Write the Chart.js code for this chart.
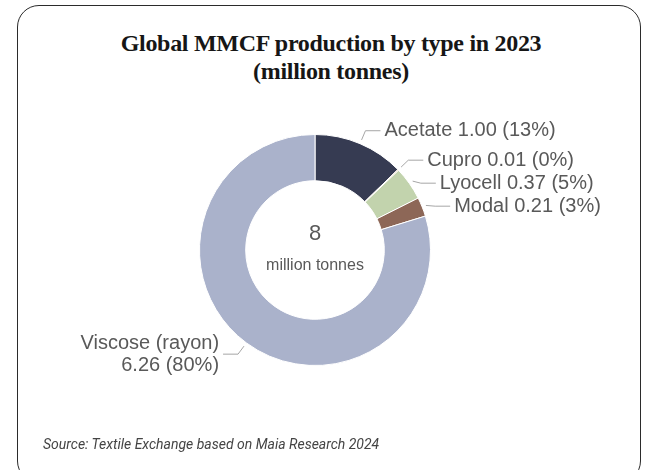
<!DOCTYPE html>
<html>
<head>
<meta charset="utf-8">
<script src="https://cdn.jsdelivr.net/npm/chart.js@4.4.1/dist/chart.umd.min.js"></script>
<style>
  body { margin: 0; background: #fff; width: 650px; height: 470px; overflow: hidden; position: relative; }
  .card { position: absolute; left: 17px; top: 5px; width: 624px; height: 478px; border: 1.5px solid #2b2b2b; border-radius: 22px; box-sizing: border-box; }
  .title { position: absolute; left: 0; width: 662px; top: 29px; text-align: center; font-family: "Liberation Serif", serif; font-weight: bold; font-size: 24px; line-height: 28px; color: #161616; letter-spacing: -0.3px; }
  .source { position: absolute; left: 43px; top: 436px; font-family: Roboto, "Liberation Sans", sans-serif; font-style: italic; font-size: 14px; color: #444; }
  canvas { position: absolute; left: 0; top: 0; }
</style>
</head>
<body>
<div class="card"></div>
<div class="title">Global MMCF production by type in 2023<br>(million tonnes)</div>
<canvas id="chartMmcf" width="650" height="470"></canvas>
<div class="source">Source: Textile Exchange based on Maia Research 2024</div>
<script>
const categorias = ['Acetate', 'Cupro', 'Lyocell', 'Modal', 'Viscose (rayon)'];
const produccion = [1.00, 0.01, 0.37, 0.21, 6.26];
const colores = ['#363b52', '#e6ad76', '#c2d3ad', '#8d6757', '#aab2cb'];
const unidadCentro = 'million tonnes';

const total = produccion.reduce((a, b) => a + b, 0);
const pct = v => Math.round(v / total * 100) + '%';

// etiquetas con linea guia, estilo excel
const etiquetasPlugin = {
    id: 'etiquetas',
    afterDatasetsDraw(chart) {
        const ctx = chart.ctx;
        const meta = chart.getDatasetMeta(0);
        const items = meta.data.map((arc, i) => {
            const p = arc.getProps(['x', 'y', 'startAngle', 'endAngle', 'outerRadius'], true);
            const mid = (p.startAngle + p.endAngle) / 2;
            const c = Math.cos(mid), s = Math.sin(mid);
            return {
                i,
                right: c >= 0,
                sx: p.x + c * (p.outerRadius + 4),
                sy: p.y + s * (p.outerRadius + 4),
                ex: p.x + c * (p.outerRadius + 14),
                ey: p.y + s * (p.outerRadius + 14)
            };
        });
        // separar las de la derecha
        const der = items.filter(d => d.right).sort((a, b) => a.ey - b.ey);
        for (let k = 1; k < der.length; k++) {
            if (der[k].ey < der[k - 1].ey + 23) der[k].ey = der[k - 1].ey + 23;
        }

        ctx.save();
        ctx.strokeStyle = '#a6a6a6';
        ctx.lineWidth = 1;
        ctx.fillStyle = '#595959';
        ctx.font = '20px "Liberation Sans", Arial, sans-serif';
        ctx.textBaseline = 'middle';
        items.forEach(d => {
            const hx = d.right ? d.ex + 15 : d.ex - 15;
            ctx.beginPath();
            ctx.moveTo(d.sx, d.sy);
            ctx.lineTo(d.ex, d.ey);
            ctx.lineTo(hx, d.ey);
            ctx.stroke();
            const v = produccion[d.i].toFixed(2) + ' (' + pct(produccion[d.i]) + ')';
            if (d.right) {
                ctx.textAlign = 'left';
                ctx.fillText(categorias[d.i] + ' ' + v, hx + 4, d.ey);
            } else {
                ctx.textAlign = 'right';
                ctx.fillText(categorias[d.i], hx - 4, d.ey - 11);
                ctx.fillText(v, hx - 4, d.ey + 11);
            }
        });

        // texto central
        const a = meta.data[0];
        ctx.textAlign = 'center';
        ctx.font = '22px "Liberation Sans", Arial, sans-serif';
        ctx.fillText(String(Math.round(total)), a.x, a.y - 16);
        ctx.font = '16px "Liberation Sans", Arial, sans-serif';
        ctx.fillText(unidadCentro, a.x, a.y + 16);
        ctx.restore();
    }
};

new Chart(document.getElementById('chartMmcf'), {
    type: 'doughnut',
    data: {
        labels: categorias,
        datasets: [{
            data: produccion,
            backgroundColor: colores,
            borderColor: '#ffffff',
            borderWidth: 1,
            hoverOffset: 0
        }]
    },
    options: {
        responsive: false,
        animation: false,
        cutout: '60%',
        layout: {
            padding: { top: 134, bottom: 104, left: 0, right: 20 }
        },
        plugins: {
            legend: { display: false },
            tooltip: { enabled: false }
        }
    },
    plugins: [etiquetasPlugin]
});
</script>
</body>
</html>
